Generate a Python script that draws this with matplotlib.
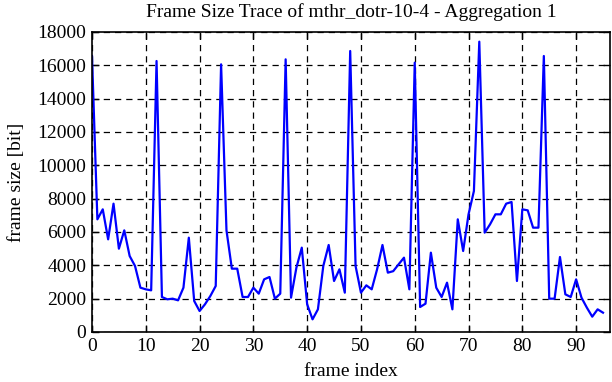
import matplotlib
matplotlib.use("Agg")
import matplotlib.pyplot as plt
import numpy as np

# frame sizes, frames 0..95
frame_size = [
    16560, 6760, 7360, 5560, 7700, 5000, 6100, 4560, 3960, 2660,
    2560, 2500, 16260, 2100, 1960, 2000, 1900, 2660, 5660, 1860,
    1260, 1660, 2160, 2760, 16060, 6100, 3800, 3800, 2100, 2100,
    2660, 2300, 3160, 3300, 2000, 2300, 16360, 2060, 3860, 5060,
    1660, 760, 1360, 3960, 5220, 3060, 3760, 2360, 16860, 3960,
    2360, 2800, 2560, 3760, 5220, 3560, 3650, 4060, 4460, 2560,
    16160, 1500, 1700, 4760, 2660, 2100, 2960, 1360, 6760, 4860,
    7060, 8460, 17420, 5960, 6460, 7060, 7060, 7700, 7800, 3060,
    7360, 7300, 6260, 6260, 16560, 2000, 2000, 4500, 2260, 2100,
    3160, 2060, 1460, 920, 1360, 1160,
]
frame_index = np.arange(len(frame_size))

x_ticks = list(range(0, 100, 10))
y_ticks = list(range(0, 18001, 2000))

plt.rcParams['font.family'] = ['Liberation Serif', 'DejaVu Serif']

fig = plt.figure(figsize=(6.12, 3.82), dpi=100)
ax = fig.add_axes([92 / 612, 1 - 332 / 382, 518 / 612, 300 / 382])

ax.plot(frame_index, frame_size, color='#0000ff', lw=1.6)

ax.set_xlim(0, 96.3)
ax.set_ylim(0, 18000)
ax.set_xticks(x_ticks)
ax.set_yticks(y_ticks)
ax.tick_params(direction='in', top=True, right=True, length=5, width=1,
               labelsize=14, colors='black', pad=4)
ax.grid(True, color='black', linestyle=(0, (5, 4)), lw=0.9)
for s in ax.spines.values():
    s.set_linewidth(1.2)

ax.set_xlabel('frame index', fontsize=14, labelpad=6)
ax.set_ylabel('frame size [bit]', fontsize=14, labelpad=9)
ax.set_title('Frame Size Trace of mthr_dotr-10-4 - Aggregation 1', fontsize=14, pad=11)

fig.savefig('out.png', dpi=100)
